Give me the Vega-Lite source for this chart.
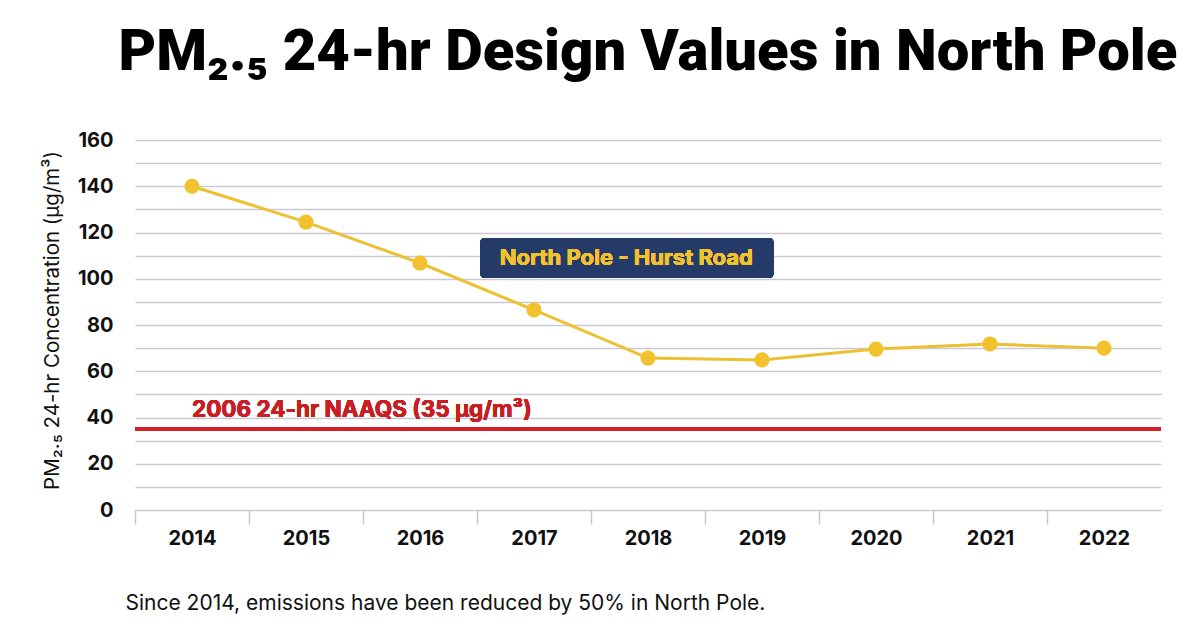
{
  "$schema": "https://vega.github.io/schema/vega-lite/v6.json",
  "width": 1026,
  "height": 370,
  "autosize": {"type": "none"},
  "padding": {"left": 135, "top": 140, "right": 39, "bottom": 120},
  "background": "#ffffff",
  "title": {
    "text": "PM₂.₅ 24-hr Design Values in North Pole",
    "font": "Roboto, sans-serif",
    "fontSize": 58,
    "fontWeight": 900,
    "color": "#000000",
    "anchor": "middle",
    "frame": "group",
    "baseline": "alphabetic",
    "offset": 2
  },
  "data": {
    "values": [
      {"year": 2014, "value": 140},
      {"year": 2015, "value": 124.5},
      {"year": 2016, "value": 106.8},
      {"year": 2017, "value": 86.5},
      {"year": 2018, "value": 65.7},
      {"year": 2019, "value": 64.9},
      {"year": 2020, "value": 69.6},
      {"year": 2021, "value": 71.8},
      {"year": 2022, "value": 70}
    ]
  },
  "config": {
    "view": {"stroke": null},
    "font": "Inter, Liberation Sans, sans-serif"
  },
  "encoding": {
    "x": {
      "field": "year",
      "type": "quantitative",
      "scale": {"domain": [2013.5, 2022.5], "nice": false, "zero": false},
      "axis": {
        "values": [2013.5, 2014.5, 2015.5, 2016.5, 2017.5, 2018.5, 2019.5, 2020.5, 2021.5],
        "labelExpr": "format(datum.value + 0.5, 'd')",
        "labelOffset": 57,
        "labelFont": "Inter, Liberation Sans, sans-serif",
        "labelFontSize": 20,
        "labelFontWeight": "bold",
        "labelColor": "#111111",
        "labelPadding": 4,
        "labelOverlap": false,
        "labelBound": false,
        "labelFlush": false,
        "ticks": true,
        "tickSize": 14,
        "tickColor": "#c8c8cc",
        "tickWidth": 1.5,
        "domain": false,
        "grid": false,
        "title": "Since 2014, emissions have been reduced by 50% in North Pole.",
        "titleFont": "Inter, Liberation Sans, sans-serif",
        "titleFontSize": 21,
        "titleFontWeight": "normal",
        "titleColor": "#111111",
        "titleAnchor": "start",
        "titleAlign": "left",
        "titleBaseline": "alphabetic",
        "titleX": -10,
        "titleY": 99
      }
    },
    "y": {
      "field": "value",
      "type": "quantitative",
      "scale": {"domain": [0, 160], "nice": false},
      "axis": {
        "values": [0, 10, 20, 30, 40, 50, 60, 70, 80, 90, 100, 110, 120, 130, 140, 150, 160],
        "labelExpr": "datum.value % 20 === 0 ? datum.label : ''",
        "labelFont": "Inter, Liberation Sans, sans-serif",
        "labelFontSize": 20,
        "labelFontWeight": "bold",
        "labelColor": "#111111",
        "labelPadding": 22,
        "ticks": false,
        "domain": false,
        "grid": true,
        "gridColor": "#cacad2",
        "gridWidth": 1.5,
        "title": "PM₂.₅ 24-hr Concentration (µg/m³)",
        "titleFont": "Inter, Liberation Sans, sans-serif",
        "titleFontSize": 20.5,
        "titleFontWeight": "normal",
        "titleColor": "#111111",
        "titleX": -83,
        "titleY": 180,
        "titleAngle": -90,
        "titleAlign": "center",
        "titleBaseline": "middle"
      }
    }
  },
  "layer": [
    {
      "mark": {"type": "rule", "color": "#d11f26", "strokeWidth": 3},
      "encoding": {"y": {"datum": 35, "type": "quantitative"}, "x": null}
    },
    {
      "mark": {"type": "text", "text": "2006 24-hr NAAQS (35 µg/m³)", "align": "left", "baseline": "bottom", "dy": -7, "font": "Inter, Liberation Sans, sans-serif", "fontSize": 22.5, "fontWeight": "bold", "color": "#c81e24"},
      "encoding": {"x": {"datum": 2014, "type": "quantitative"}, "y": {"datum": 35, "type": "quantitative"}}
    },
    {
      "mark": {"type": "rect", "color": "#243a69", "cornerRadius": 4},
      "encoding": {
        "x": {"datum": 2016.53, "type": "quantitative"},
        "x2": {"datum": 2019.1},
        "y": {"datum": 117.6, "type": "quantitative"},
        "y2": {"datum": 100.3}
      }
    },
    {
      "mark": {"type": "text", "text": "North Pole - Hurst Road", "align": "center", "baseline": "middle", "font": "Inter, Liberation Sans, sans-serif", "fontSize": 22, "fontWeight": "bold", "color": "#f2c12e"},
      "encoding": {"x": {"datum": 2017.81, "type": "quantitative"}, "y": {"datum": 108.9, "type": "quantitative"}}
    },
    {
      "mark": {"type": "line", "color": "#ecc030", "strokeWidth": 3}
    },
    {
      "mark": {"type": "point", "filled": true, "color": "#f2c12e", "opacity": 1, "size": 230}
    }
  ]
}
